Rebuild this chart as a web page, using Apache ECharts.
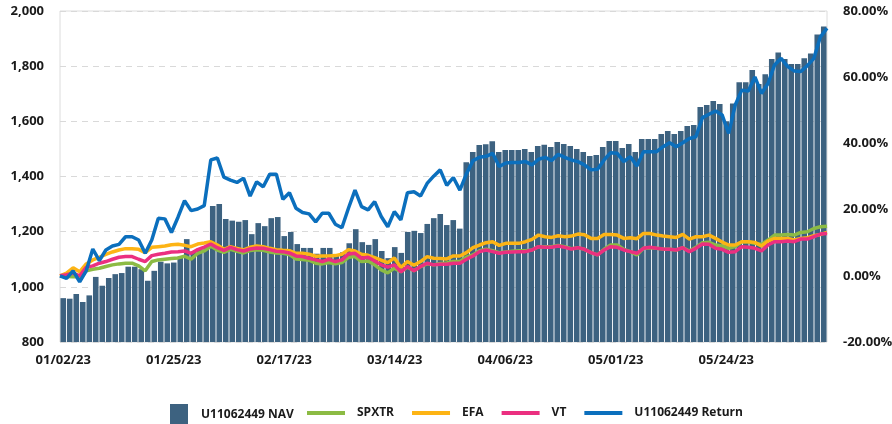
<!DOCTYPE html>
<html>
<head>
<meta charset="utf-8">
<script src="https://cdn.jsdelivr.net/npm/echarts@6/dist/echarts.min.js"></script>
<style>
  html, body { margin: 0; padding: 0; background: #fff; }
  #chart { width: 892px; height: 424px; }
</style>
</head>
<body>
<div id="chart"></div>
<script>
// weekdays 01/02/23 .. 06/14/23
var dates = [
  '01/02/23','01/03/23','01/04/23','01/05/23','01/06/23','01/09/23','01/10/23','01/11/23','01/12/23','01/13/23',
  '01/16/23','01/17/23','01/18/23','01/19/23','01/20/23','01/23/23','01/24/23','01/25/23','01/26/23','01/27/23',
  '01/30/23','01/31/23','02/01/23','02/02/23','02/03/23','02/06/23','02/07/23','02/08/23','02/09/23','02/10/23',
  '02/13/23','02/14/23','02/15/23','02/16/23','02/17/23','02/20/23','02/21/23','02/22/23','02/23/23','02/24/23',
  '02/27/23','02/28/23','03/01/23','03/02/23','03/03/23','03/06/23','03/07/23','03/08/23','03/09/23','03/10/23',
  '03/13/23','03/14/23','03/15/23','03/16/23','03/17/23','03/20/23','03/21/23','03/22/23','03/23/23','03/24/23',
  '03/27/23','03/28/23','03/29/23','03/30/23','03/31/23','04/03/23','04/04/23','04/05/23','04/06/23','04/07/23',
  '04/10/23','04/11/23','04/12/23','04/13/23','04/14/23','04/17/23','04/18/23','04/19/23','04/20/23','04/21/23',
  '04/24/23','04/25/23','04/26/23','04/27/23','04/28/23','05/01/23','05/02/23','05/03/23','05/04/23','05/05/23',
  '05/08/23','05/09/23','05/10/23','05/11/23','05/12/23','05/15/23','05/16/23','05/17/23','05/18/23','05/19/23',
  '05/22/23','05/23/23','05/24/23','05/25/23','05/26/23','05/29/23','05/30/23','05/31/23','06/01/23','06/02/23',
  '06/05/23','06/06/23','06/07/23','06/08/23','06/09/23','06/12/23','06/13/23','06/14/23'
];

var nav = [
  959, 957, 974, 945, 969, 1036, 1004, 1032, 1046, 1050, 1073, 1073, 1064, 1022, 1058, 1091, 1085, 1088, 1110, 1173,
  1128, 1140, 1145, 1293, 1300, 1246, 1240, 1236, 1242, 1191, 1231, 1220, 1249, 1253, 1184, 1199, 1155, 1141, 1141, 1120,
  1141, 1141, 1115, 1125, 1158, 1209, 1162, 1152, 1173, 1130, 1104, 1144, 1123, 1199, 1203, 1195, 1228, 1249, 1264, 1224,
  1242, 1211, 1452, 1489, 1514, 1517, 1528, 1489, 1496, 1496, 1496, 1500, 1489, 1511, 1515, 1507, 1525, 1518, 1511, 1500,
  1489, 1474, 1478, 1507, 1529, 1529, 1503, 1518, 1489, 1536, 1536, 1536, 1554, 1565, 1554, 1565, 1583, 1587, 1652, 1659,
  1674, 1663, 1600, 1665, 1742, 1742, 1786, 1735, 1771, 1826, 1850, 1826, 1808, 1808, 1829, 1846, 1915, 1944
];

var spxtr = [
  0, -0.2, -0.3, -0.3, 1.5, 2.0, 2.3, 2.8, 3.3, 3.6, 3.8, 3.8, 3.0, 1.5, 4.3, 4.8, 5.0, 5.2, 5.4, 5.9,
  5.0, 6.8, 7.5, 8.9, 7.8, 7.1, 8.0, 7.4, 6.9, 7.6, 7.9, 7.7, 7.2, 6.9, 6.8, 6.4, 5.1, 4.9, 4.7, 3.8,
  3.6, 4.0, 3.6, 4.0, 5.6, 5.8, 4.3, 4.5, 3.3, 1.8, 0.9, 2.3, 1.2, 2.6, 1.5, 2.8, 3.6, 3.3, 3.7, 3.9,
  4.3, 4.3, 5.6, 6.3, 7.6, 8.0, 7.6, 7.0, 7.2, 7.4, 7.6, 7.6, 7.8, 8.8, 8.8, 8.8, 9.2, 8.8, 8.2, 8.5,
  8.0, 7.0, 6.3, 8.0, 9.3, 9.3, 8.0, 7.3, 6.3, 8.3, 8.5, 8.3, 8.1, 8.0, 7.8, 8.5, 7.5, 8.6, 10.0, 10.1,
  9.3, 9.0, 8.3, 8.8, 10.3, 10.3, 9.8, 9.5, 10.8, 12.3, 12.3, 12.5, 12.3, 13.1, 13.3, 14.3, 14.8, 15.0
];

var efa = [
  0, 0.8, 2.4, 1.2, 3.6, 4.8, 5.6, 6.5, 7.2, 7.8, 8.2, 8.2, 8.0, 7.0, 8.6, 8.8, 9.0, 9.4, 9.5, 9.2,
  8.8, 9.6, 9.9, 10.3, 9.3, 8.0, 8.8, 8.3, 7.8, 8.6, 9.0, 8.8, 8.3, 7.9, 7.7, 7.6, 6.8, 6.8, 6.5, 5.9,
  6.0, 6.0, 6.1, 6.5, 7.9, 7.5, 6.5, 6.2, 5.5, 4.7, 4.0, 5.4, 2.5, 4.3, 3.2, 4.3, 5.8, 5.3, 5.2, 5.1,
  6.0, 6.0, 7.0, 8.5, 9.3, 10.0, 10.3, 9.2, 9.8, 9.8, 9.8, 10.3, 11.0, 12.3, 11.8, 11.6, 12.1, 11.8, 12.0, 12.6,
  12.4, 11.3, 11.3, 12.5, 12.5, 12.3, 11.3, 11.5, 11.2, 12.8, 12.8, 12.3, 12.0, 11.8, 11.6, 12.5, 11.1, 11.8, 11.8, 12.3,
  11.3, 10.2, 9.3, 9.3, 10.3, 10.3, 10.1, 9.0, 10.5, 11.3, 11.3, 11.3, 10.8, 11.3, 11.5, 12.1, 12.5, 13.1
];

var vt = [
  0, 0.3, 0.8, 0.0, 2.6, 3.0, 3.8, 4.3, 5.0, 5.6, 5.8, 5.8, 5.0, 4.3, 6.1, 6.5, 6.8, 7.2, 7.3, 7.5,
  6.8, 7.9, 8.7, 9.6, 8.5, 7.7, 8.6, 7.9, 7.5, 8.1, 8.4, 8.3, 7.9, 7.4, 7.3, 6.9, 6.0, 5.8, 5.3, 4.8,
  4.3, 5.0, 4.3, 4.8, 6.6, 6.8, 5.3, 5.6, 4.5, 3.3, 2.6, 3.3, 1.2, 2.8, 1.5, 2.8, 3.8, 3.3, 3.5, 3.5,
  3.8, 3.8, 5.0, 6.0, 7.3, 7.8, 7.3, 6.8, 7.1, 7.2, 7.3, 7.3, 7.8, 8.8, 8.6, 8.6, 9.0, 8.6, 8.1, 8.5,
  8.0, 7.0, 6.3, 7.8, 8.8, 8.6, 7.8, 7.3, 6.8, 8.3, 8.6, 8.3, 8.1, 8.0, 7.8, 8.5, 7.3, 8.3, 9.6, 9.5,
  8.3, 8.0, 7.1, 7.3, 8.8, 8.6, 8.3, 7.5, 9.3, 10.3, 10.3, 10.5, 10.3, 11.1, 11.1, 11.8, 12.6, 12.8
];

var accountReturn = [
  0, -0.8, 1.5, -1.8, 1.5, 8.1, 4.6, 7.8, 9.0, 9.5, 11.8, 11.8, 10.8, 6.8, 10.8, 17.4, 17.2, 13.1, 17.7, 22.7,
  19.7, 20.2, 21.2, 35.0, 35.6, 29.8, 28.9, 28.2, 29.5, 24.1, 28.4, 26.9, 30.7, 30.7, 23.1, 25.1, 20.4, 19.1, 18.7, 16.3,
  18.9, 18.9, 15.6, 14.5, 20.4, 25.9, 20.9, 19.9, 22.4, 17.9, 14.8, 19.4, 16.9, 25.1, 25.4, 24.1, 27.9, 30.1, 32.0, 27.3,
  29.7, 25.9, 30.8, 34.8, 35.8, 36.1, 37.0, 33.0, 34.1, 34.2, 34.2, 34.5, 33.5, 35.2, 35.8, 34.8, 36.7, 35.8, 35.0, 34.5,
  33.5, 32.0, 32.2, 35.0, 37.2, 37.0, 34.5, 36.0, 33.2, 37.5, 37.5, 37.5, 39.0, 40.2, 39.0, 40.2, 41.5, 42.0, 47.8, 48.8,
  49.8, 48.6, 43.0, 51.6, 56.1, 55.8, 60.1, 55.1, 58.1, 63.7, 65.7, 63.2, 61.9, 61.7, 63.5, 65.7, 72.2, 74.8
];

var FONT = 'Open Sans';
var labelStyle = { color: '#1a1a1a', fontFamily: FONT, fontWeight: 'bold', fontSize: 13 };

var chart = echarts.init(document.getElementById('chart'), null, { renderer: 'canvas' });

function lineSeries(name, data, color) {
  return {
    name: name,
    type: 'line',
    xAxisIndex: 1,
    yAxisIndex: 1,
    data: data,
    showSymbol: false,
    symbol: 'none',
    lineStyle: { color: color, width: 3.5 },
    itemStyle: { color: color },
    emphasis: { disabled: true },
    animation: false
  };
}

chart.setOption({
  animation: false,
  grid: {
    left: 60, right: 65, top: 11, bottom: 82,
    show: true, borderColor: '#dcdcdc', borderWidth: 1,
    outerBoundsMode: 'none'
  },
  legend: [
    {
      data: ['U11062449 NAV'],
      left: 165, top: 399,
      icon: 'rect',
      itemWidth: 18, itemHeight: 21,
      textStyle: Object.assign({ padding: [0, 0, 0, 8] }, labelStyle, { fontSize: 12 })
    },
    {
      data: ['SPXTR', 'EFA', 'VT', 'U11062449 Return'],
      left: 302, top: 402,
      icon: 'rect',
      itemWidth: 38, itemHeight: 4,
      itemGap: 18,
      textStyle: Object.assign({ padding: [0, 0, 0, 7] }, labelStyle, { fontSize: 12 })
    }
  ],
  xAxis: [
    {
      type: 'category',
      data: dates,
      boundaryGap: true,
      axisLine: { show: false },
      axisTick: { show: false },
      axisLabel: Object.assign({ interval: 16, margin: 12 }, labelStyle),
      splitLine: { show: false }
    },
    {
      type: 'category',
      data: dates,
      boundaryGap: false,
      show: false
    }
  ],
  yAxis: [
    {
      type: 'value',
      min: 800, max: 2000, interval: 200,
      axisLine: { show: false },
      axisTick: { show: false },
      axisLabel: Object.assign({
        margin: 16,
        formatter: function (v) { return v.toLocaleString('en-US'); }
      }, labelStyle),
      splitLine: { show: true, lineStyle: { color: '#d9d9d9', type: [6, 5], width: 1 } }
    },
    {
      type: 'value',
      min: -20, max: 80, interval: 20,
      position: 'right',
      axisLine: { show: false },
      axisTick: { show: false },
      axisLabel: Object.assign({
        margin: 16,
        formatter: function (v) { return v.toFixed(2) + '%'; }
      }, labelStyle),
      splitLine: { show: false }
    }
  ],
  series: [
    {
      name: 'U11062449 NAV',
      type: 'bar',
      data: nav,
      barCategoryGap: '14%',
      itemStyle: { color: '#3d6280' },
      emphasis: { disabled: true }
    },
    lineSeries('SPXTR', spxtr, '#8cbb44'),
    lineSeries('EFA', efa, '#fdb415'),
    lineSeries('VT', vt, '#eb2f80'),
    lineSeries('U11062449 Return', accountReturn, '#0b6fbd')
  ]
});
</script>
</body>
</html>
